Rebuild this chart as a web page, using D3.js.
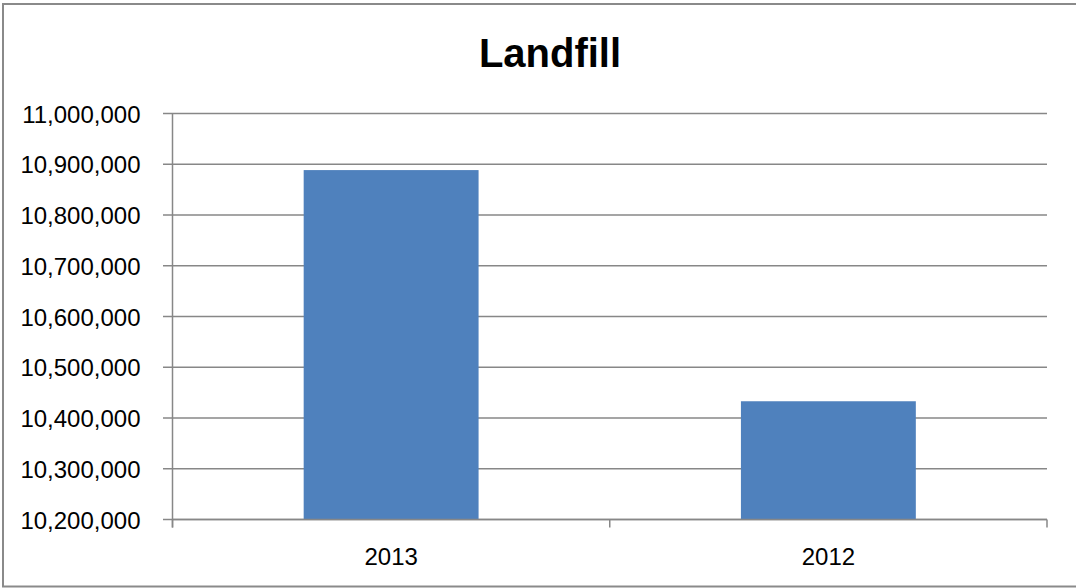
<!DOCTYPE html>
<html>
<head>
<meta charset="utf-8">
<script src="https://cdn.jsdelivr.net/npm/d3@7"></script>
<style>
  html, body { margin: 0; padding: 0; background: #fff; }
  svg { display: block; }
</style>
</head>
<body>
<svg id="chart" width="1076" height="588"></svg>
<script>
const title = "Landfill";
const categories = ["2013", "2012"];
const values = [10888500, 10433000];
const yTicks = [10200000, 10300000, 10400000, 10500000, 10600000, 10700000, 10800000, 10900000, 11000000];

const W = 1076, H = 588;
const margin = { left: 172.5, right: 1076 - 1047, top: 113.5, bottom: 588 - 519.5 };
const svg = d3.select("#chart");
const font = "'Liberation Sans', Arial, sans-serif";
const grey = "#878787";

// outer border (right side runs past the picture edge, as in the reference)
svg.append("rect")
  .attr("x", 3).attr("y", 4).attr("width", 1100).attr("height", 582.5)
  .attr("fill", "#fff").attr("stroke", "#8a8a8a").attr("stroke-width", 2);

// title
svg.append("text")
  .attr("x", 550).attr("y", 67)
  .attr("text-anchor", "middle")
  .attr("font-family", font).attr("font-weight", "bold").attr("font-size", 40)
  .attr("fill", "#000")
  .text(title);

const x = d3.scaleBand()
  .domain(categories)
  .range([margin.left, W - margin.right])
  .paddingInner(0.6).paddingOuter(0.3);

const y = d3.scaleLinear()
  .domain([10200000, 11000000])
  .range([H - margin.bottom, margin.top]);

// gridlines
svg.append("g")
  .selectAll("line")
  .data(yTicks)
  .join("line")
  .attr("x1", margin.left - 9.5).attr("x2", W - margin.right)
  .attr("y1", d => y(d)).attr("y2", d => y(d))
  .attr("stroke", grey).attr("stroke-width", 1.5);

// bars
svg.append("g")
  .selectAll("rect")
  .data(values)
  .join("rect")
  .attr("x", (d, i) => x(categories[i]))
  .attr("width", x.bandwidth())
  .attr("y", d => y(d))
  .attr("height", d => y(10200000) - y(d))
  .attr("fill", "#4f81bd");

// y axis
const yAxis = d3.axisLeft(y)
  .tickValues(yTicks)
  .tickSize(0)
  .tickPadding(32)
  .tickFormat(d3.format(","));
const gy = svg.append("g")
  .attr("transform", `translate(${margin.left},0)`)
  .call(yAxis);
gy.select(".domain").attr("stroke", grey).attr("stroke-width", 1.5)
  .attr("d", `M0,${margin.top}V${H - margin.bottom + 8}`);
gy.selectAll("text")
  .attr("font-family", font).attr("font-size", 24).attr("fill", "#000")
  .attr("dy", "0.36em");

// x axis
const xAxis = d3.axisBottom(x).tickSize(0).tickPadding(28);
const gx = svg.append("g")
  .attr("transform", `translate(0,${H - margin.bottom})`)
  .call(xAxis);
gx.select(".domain").attr("stroke", grey).attr("stroke-width", 1.5)
  .attr("d", `M${margin.left},0H${W - margin.right}`);
gx.selectAll("text")
  .attr("font-family", font).attr("font-size", 24).attr("fill", "#000");

// category boundary tick marks
const bounds = [margin.left, (margin.left + W - margin.right) / 2, W - margin.right];
svg.append("g")
  .selectAll("line")
  .data(bounds)
  .join("line")
  .attr("x1", d => d).attr("x2", d => d)
  .attr("y1", H - margin.bottom).attr("y2", H - margin.bottom + 8)
  .attr("stroke", grey).attr("stroke-width", 1.5);
</script>
</body>
</html>
